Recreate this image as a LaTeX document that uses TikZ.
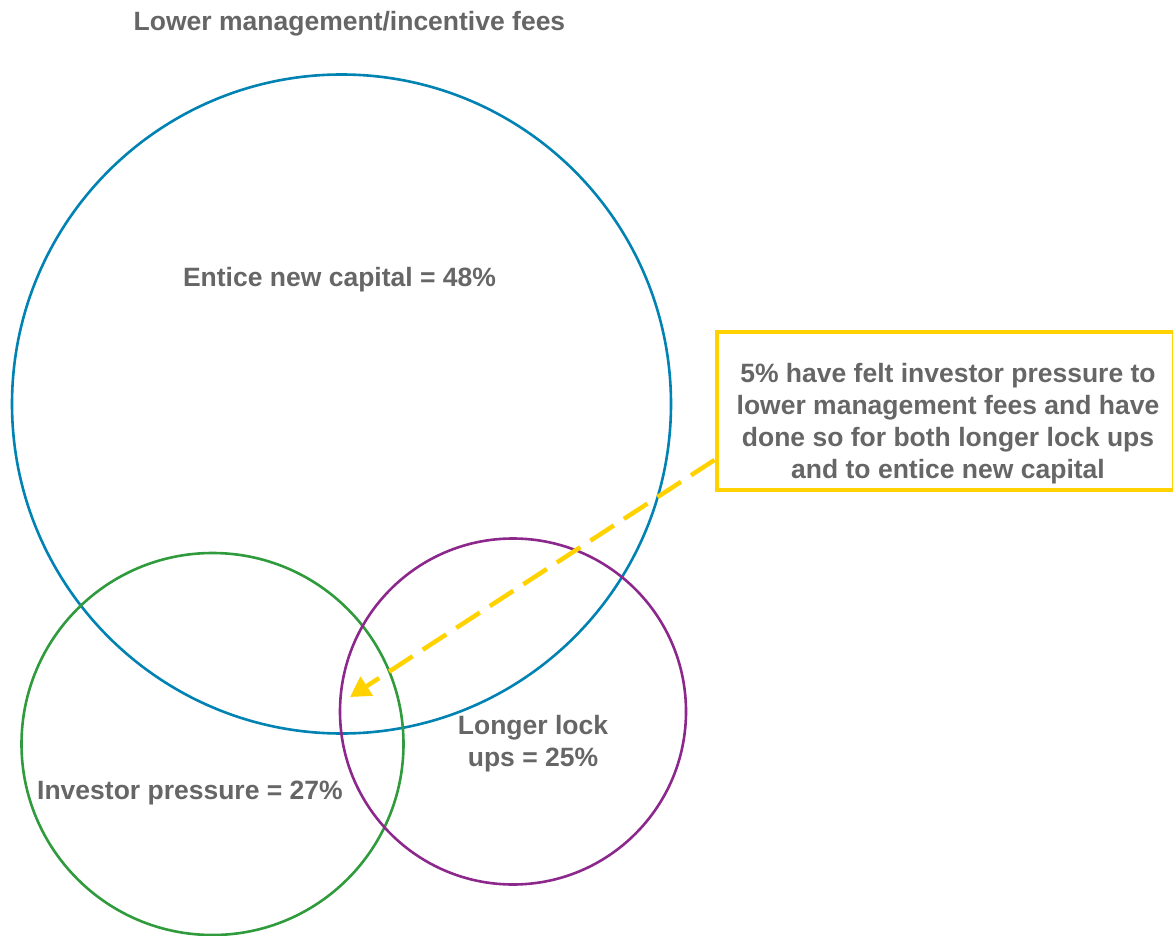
\documentclass[tikz,border=0pt]{standalone}
\usepackage{fontspec}
\setmainfont{Liberation Sans}
\usetikzlibrary{arrows.meta}
\definecolor{txtgray}{RGB}{102,102,102}
\definecolor{cblue}{RGB}{0,130,178}
\definecolor{cgreen}{RGB}{48,155,60}
\definecolor{cpurple}{RGB}{140,40,140}
\definecolor{cyellow}{RGB}{255,210,0}
\begin{document}
\begin{tikzpicture}[x=1pt,y=-1pt,
  lbl/.style={text=txtgray,font=\fontsize{26.5}{32}\selectfont\bfseries,align=center,inner sep=0pt},
  venn/.style={line width=2.6pt},
  callout/.style={draw=cyellow,line width=4pt,minimum width=457pt,minimum height=158pt,inner sep=0pt},
  pointer/.style={draw=cyellow,line width=4.5pt,dash pattern=on 28pt off 12pt,-{Triangle[length=20pt,width=22pt]}}]
\useasboundingbox (0,0) rectangle (1173,936);
\draw[venn,cblue] (341.5,404) circle[radius=329.5];
\draw[venn,cgreen] (212.5,744) circle[radius=191];
\draw[venn,cpurple] (513,711.5) circle[radius=173];
\node[lbl] (title) at (349.5,24) {Lower management/incentive fees};
\node[lbl] (entice) at (339.5,280) {Entice new capital = 48\%};
\node[lbl] (lock) at (533,744) {Longer lock\\ups = 25\%};
\node[lbl] (inv) at (190,793) {Investor pressure = 27\%};
\node[callout] (box) at (945,411) {};
\node[lbl] (boxtxt) at (948,424) {5\% have felt investor pressure to\\lower management fees and have\\done so for both longer lock ups\\and to entice new capital};
\coordinate (tip) at (350,697);
\draw[pointer] (box.west |- 0,460) -- (tip);
\end{tikzpicture}
\end{document}
